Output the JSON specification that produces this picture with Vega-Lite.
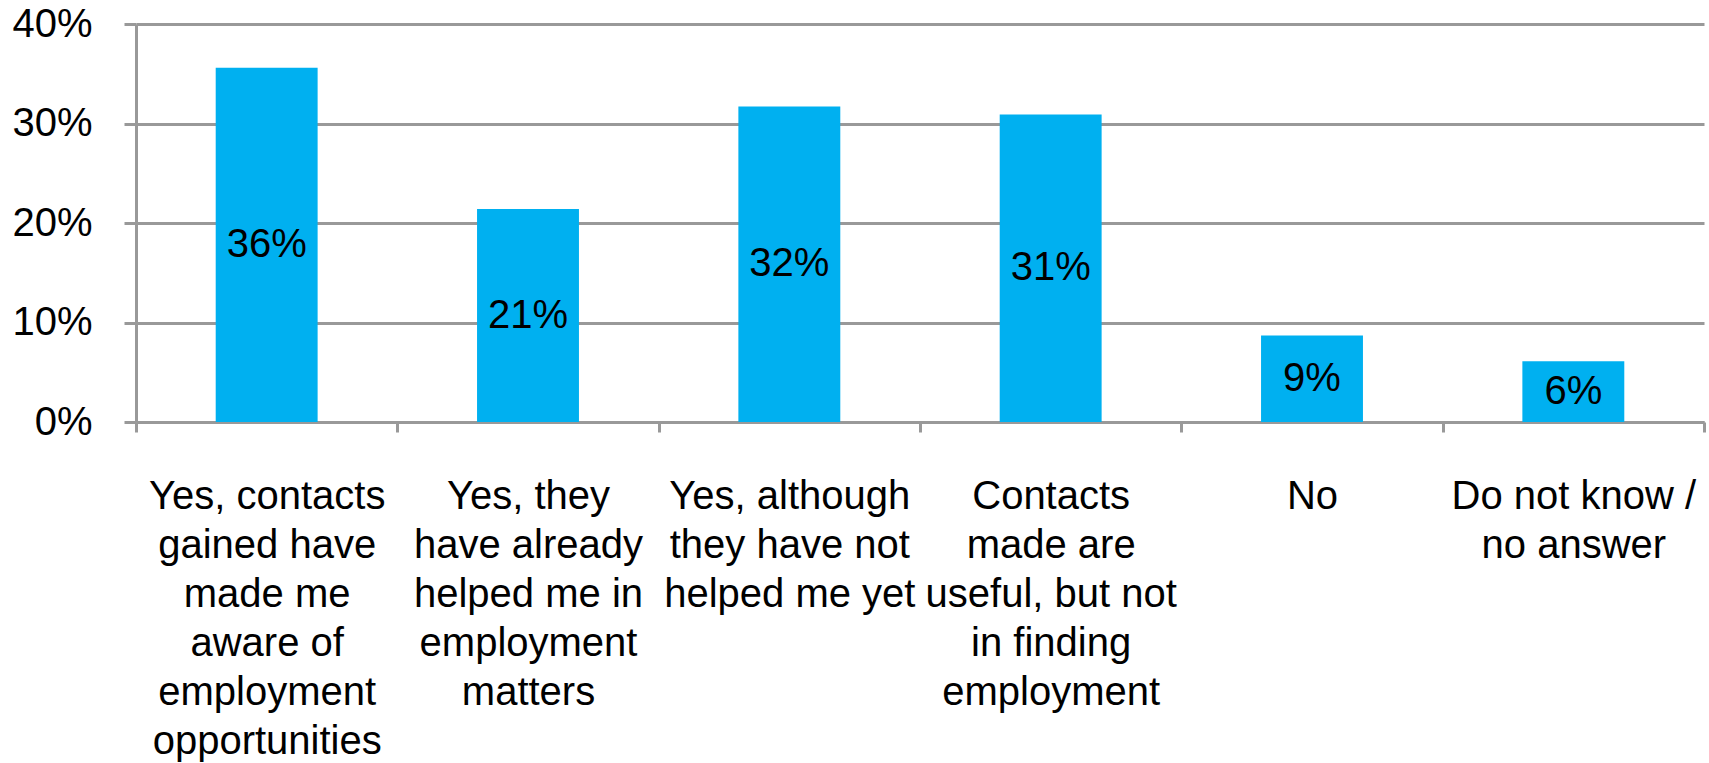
{
  "$schema": "https://vega.github.io/schema/vega-lite/v6.json",
  "autosize": {"type": "none"},
  "width": 1568,
  "height": 398,
  "padding": {"left": 136, "top": 24, "right": 5, "bottom": 341},
  "background": "white",
  "config": {
    "view": {"stroke": null},
    "font": "Liberation Sans",
    "axis": {
      "labelFont": "Liberation Sans",
      "labelFontSize": 40,
      "labelColor": "#000000",
      "domainColor": "#999999",
      "domainWidth": 3,
      "tickColor": "#999999",
      "tickWidth": 3,
      "gridColor": "#999999",
      "gridWidth": 3,
      "title": null
    }
  },
  "data": {
    "values": [
      {"category": "Yes, contacts|gained have|made me|aware of|employment|opportunities", "value": 0.356},
      {"category": "Yes, they|have already|helped me in|employment|matters", "value": 0.214},
      {"category": "Yes, although|they have not|helped me yet", "value": 0.317},
      {"category": "Contacts|made are|useful, but not|in finding|employment", "value": 0.309},
      {"category": "No", "value": 0.087},
      {"category": "Do not know /|no answer", "value": 0.061}
    ]
  },
  "layer": [
    {
      "mark": {"type": "bar", "color": "#00B0F0", "width": {"band": 0.39}},
      "encoding": {
        "x": {
          "field": "category",
          "type": "nominal",
          "sort": null,
          "scale": {"paddingInner": 0, "paddingOuter": 0},
          "axis": {
            "labelAngle": 0,
            "labelExpr": "isValid(datum.value) ? split(datum.value, '|') : ''",
            "labelLineHeight": 49,
            "labelLimit": 400,
            "labelOverlap": false,
            "labelBound": false,
            "labelAlign": "center",
            "labelBaseline": "top",
            "tickBand": "extent",
            "tickSize": 10,
            "labelPadding": 44,
            "grid": false,
            "domain": true
          }
        },
        "y": {
          "field": "value",
          "type": "quantitative",
          "scale": {"domain": [0, 0.4], "nice": false},
          "axis": {
            "values": [0, 0.1, 0.2, 0.3, 0.4],
            "format": ".0%",
            "grid": true,
            "tickSize": 12,
            "labelPadding": 32,
            "domain": true
          }
        }
      }
    },
    {
      "mark": {"type": "text", "fontSize": 40, "font": "Liberation Sans", "color": "#000000", "baseline": "middle", "align": "center"},
      "encoding": {
        "x": {"field": "category", "type": "nominal", "sort": null},
        "y": {
          "field": "value",
          "type": "quantitative",
          "scale": {"domain": [0, 0.8], "nice": false},
          "axis": null
        },
        "text": {"field": "value", "type": "quantitative", "format": ".0%"}
      }
    }
  ],
  "resolve": {"scale": {"y": "independent"}}
}
